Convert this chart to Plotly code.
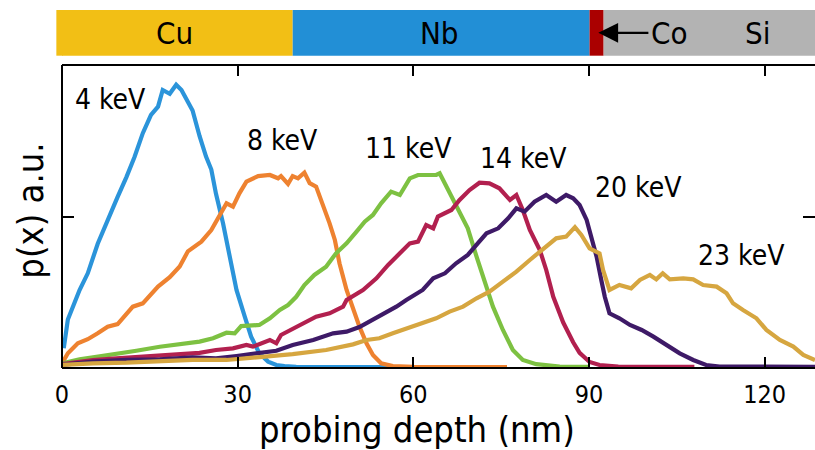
import plotly.graph_objects as go

# Implantation profiles p(x) versus probing depth, one per beam energy
energies = ["4 keV", "8 keV", "11 keV", "14 keV", "20 keV", "23 keV"]
colors = ["#2B94DA", "#EE8230", "#7DC142", "#B2204F", "#3E1A67", "#D6A640"]

x_4 = [0.3, 1.0, 3.0, 4.4, 6.1, 7.8, 9.5, 11.0, 12.4, 13.8, 15.2, 16.4, 17.2, 18.4, 19.5, 20.4,
       21.5, 22.3, 23.5, 24.6, 25.5, 26.3, 27.5, 28.6, 29.8, 31.2, 32.3, 33.7, 35.2, 36.6, 38.0,
       40.0, 45.0, 50.0, 56.0]
p_4 = [0.13, 0.32, 0.515, 0.625, 0.82, 0.98, 1.13, 1.26, 1.395, 1.55, 1.67, 1.725, 1.835, 1.81,
       1.87, 1.835, 1.76, 1.70, 1.53, 1.395, 1.31, 1.15, 0.955, 0.735, 0.515, 0.34, 0.207, 0.097,
       0.042, 0.02, 0.012, 0.008, 0.006, 0.006, 0.006]

x_8 = [0, 1.0, 2.7, 4.4, 6.1, 7.8, 9.5, 12.1, 13.8, 16.4, 18.4, 20.1, 21.5, 23.8, 25.5, 26.9, 28.1,
       29.2, 30.3, 31.5, 33.5, 35.5, 36.9, 37.4, 38.6, 39.4, 40.3, 41.4, 42.3, 43.4, 44.6, 45.7,
       46.6, 47.4, 48.6, 49.7, 50.8, 52.0, 53.1, 54.5, 56.5, 60, 65, 70, 76]
p_8 = [0.03, 0.097, 0.163, 0.19, 0.229, 0.273, 0.29, 0.405, 0.427, 0.537, 0.60, 0.67, 0.77, 0.834,
       0.91, 1.0, 1.087, 1.065, 1.153, 1.23, 1.267, 1.274, 1.252, 1.267, 1.215, 1.267, 1.252, 1.29,
       1.22, 1.197, 1.076, 0.955, 0.845, 0.69, 0.515, 0.383, 0.273, 0.163, 0.086, 0.031, 0.013,
       0.008, 0.006, 0.006, 0.006]

x_11 = [0, 3.0, 5.3, 9.3, 12.7, 16.7, 21.2, 23.5, 25.8, 28.1, 29.5, 30.6, 33.7, 35.5, 37.2, 38.6,
        40.0, 41.4, 43.1, 45.1, 46.8, 48.6, 50.3, 51.7, 53.1, 54.5, 56.2, 57.7, 59.4, 60.8, 61.6,
        63.9, 64.5, 65.9, 67.6, 69.3, 70.8, 72.2, 73.6, 75.3, 77.0, 78.7, 81.0, 85.0, 90.0]
p_11 = [0.03, 0.057, 0.07, 0.092, 0.114, 0.14, 0.158, 0.174, 0.196, 0.233, 0.229, 0.277, 0.284,
        0.328, 0.383, 0.416, 0.47, 0.548, 0.614, 0.668, 0.757, 0.823, 0.90, 0.966, 1.01, 1.087,
        1.164, 1.142, 1.252, 1.274, 1.274, 1.274, 1.285, 1.175, 1.054, 0.922, 0.735, 0.559, 0.405,
        0.251, 0.119, 0.053, 0.025, 0.01, 0.008]

x_14 = [0, 5.3, 9.3, 13.8, 18.4, 21.5, 23.5, 26.3, 29.2, 31.5, 32.6, 35.5, 36.6, 37.4, 40.6, 43.4,
        45.7, 48.0, 48.6, 50.3, 51.4, 53.7, 55.7, 57.7, 59.4, 60.8, 62.2, 63.4, 64.2, 66.5, 67.9,
        69.6, 71.3, 73.0, 74.7, 76.5, 77.6, 78.7, 79.9, 81.6, 82.7, 83.9, 85.6, 87.3, 88.4, 90.1,
        91.8, 95, 100, 108]
p_14 = [0.026, 0.053, 0.064, 0.075, 0.086, 0.10, 0.10, 0.119, 0.13, 0.152, 0.141, 0.185, 0.163,
        0.218, 0.284, 0.339, 0.361, 0.405, 0.449, 0.493, 0.515, 0.592, 0.68, 0.757, 0.823, 0.834,
        0.944, 0.922, 0.999, 1.043, 1.109, 1.175, 1.223, 1.219, 1.186, 1.109, 1.142, 1.043, 0.911,
        0.779, 0.647, 0.47, 0.30, 0.17, 0.10, 0.04, 0.02, 0.01, 0.008, 0.008]

x_20 = [0, 5.3, 11, 16.7, 22.3, 26.3, 29.8, 33.7, 36.6, 39.4, 42.9, 46.3, 48.6, 50.8, 52.0, 54.8,
        57.1, 58.8, 60.8, 61.6, 63.4, 65.4, 67.3, 69.3, 71.0, 72.5, 74.5, 76.2, 77.6, 79.0, 80.7,
        82.7, 84.4, 86.1, 87.3, 88.4, 89.6, 90.4, 91.3, 92.1, 92.7, 93.5, 95.2, 97.0, 99.0, 101,
        103.2, 105.5, 107.8, 110, 112.3, 120, 128.6]
p_20 = [0.02, 0.042, 0.053, 0.057, 0.07, 0.064, 0.079, 0.097, 0.114, 0.152, 0.185, 0.229, 0.24,
        0.27, 0.295, 0.35, 0.405, 0.449, 0.493, 0.515, 0.592, 0.625, 0.691, 0.746, 0.823, 0.889,
        0.922, 0.988, 1.054, 1.032, 1.098, 1.142, 1.098, 1.142, 1.12, 1.076, 0.977, 0.867, 0.735,
        0.581, 0.47, 0.361, 0.328, 0.284, 0.251, 0.207, 0.152, 0.097, 0.053, 0.02, 0.01, 0.008,
        0.008]

x_23 = [0, 5.3, 11, 16.7, 22.3, 28.1, 33.7, 39.4, 45.1, 49.7, 52.0, 54.2, 56.5, 58.8, 61.6, 63.9,
        66.2, 68.5, 70.8, 73.0, 75.3, 77.6, 79.9, 82.1, 84.4, 86.1, 87.6, 88.7, 90.1, 91.8, 92.4,
        93.5, 95.2, 97.2, 98.7, 100.4, 101.5, 102.6, 103.8, 106.1, 107.8, 109.5, 111.8, 113.5,
        114.6, 116.3, 118.6, 120.3, 122.6, 124.9, 126.6, 128.6]
p_23 = [0.02, 0.031, 0.035, 0.042, 0.053, 0.053, 0.07, 0.092, 0.119, 0.156, 0.185, 0.196, 0.229,
        0.262, 0.295, 0.328, 0.372, 0.405, 0.46, 0.504, 0.57, 0.636, 0.713, 0.779, 0.856, 0.867,
        0.93, 0.878, 0.79, 0.757, 0.647, 0.515, 0.548, 0.526, 0.581, 0.614, 0.585, 0.625, 0.585,
        0.592, 0.585, 0.548, 0.537, 0.493, 0.427, 0.383, 0.328, 0.251, 0.185, 0.141, 0.086, 0.053]

depths = [x_4, x_8, x_11, x_14, x_20, x_23]
profiles = [p_4, p_8, p_11, p_14, p_20, p_23]

# Label anchor positions (depth, p) for each energy
label_x = [8.3, 37.7, 59.2, 78.8, 98.5, 116.1]
label_y = [1.77, 1.50, 1.45, 1.386, 1.19, 0.74]

# Layer stack: name, start depth, end depth, colour
layer_names = ["Cu", "Nb", "Co", "Si"]
layer_start = [0.0, 39.4, 90.1, 92.5]
layer_end = [39.4, 90.1, 92.5, 130.0]
layer_colors = ["#F2BF15", "#228FD6", "#AA0000", "#B3B3B3"]
layer_label_x = [19.2, 64.5, 103.8, 118.8]

x_ticks = [0, 30, 60, 90, 120]
x_range = [0, 128.6]
y_range = [0, 2]

FONT = "DejaVu Sans Condensed, DejaVu Sans, sans-serif"

fig = go.Figure()
for xs, ps, name, col in zip(depths, profiles, energies, colors):
    fig.add_trace(go.Scatter(x=xs, y=ps, mode="lines", name=name,
                             line=dict(color=col, width=4.2), showlegend=False))

# mirrored ticks on the top and right edges via overlaid axes
fig.add_trace(go.Scatter(x=[None], y=[None], xaxis="x2", yaxis="y2", showlegend=False))

for lx, ly, name in zip(label_x, label_y, energies):
    fig.add_annotation(x=lx, y=ly, text=name, showarrow=False, xanchor="center",
                       yanchor="middle", font=dict(family=FONT, size=28, color="black"))

# layer bar above the plot
bar_y0, bar_y1 = 1.0307, 1.1815
bar_mid = (bar_y0 + bar_y1) / 2
# small overhang of the first layer to the left of the frame
fig.add_shape(type="rect", xref="paper", yref="paper", x0=-0.0075, x1=0.001, y0=bar_y0,
              y1=bar_y1, fillcolor=layer_colors[0], line=dict(width=0), layer="above")
for x0, x1, col in zip(layer_start, layer_end, layer_colors):
    fig.add_shape(type="rect", xref="x", yref="paper", x0=x0, x1=x1, y0=bar_y0, y1=bar_y1,
                  fillcolor=col, line=dict(width=0), layer="above")
for name, lx in zip(layer_names, layer_label_x):
    fig.add_annotation(x=lx, y=bar_mid, xref="x", yref="paper", text=name, showarrow=False,
                       xanchor="center", yanchor="middle",
                       font=dict(family=FONT, size=31, color="black"))
# arrow pointing at the thin Co layer
fig.add_annotation(x=91.6, y=bar_mid, xref="x", yref="paper", text="",
                   showarrow=True, axref="x", ax=100.4, ayref="pixel", ay=0,
                   arrowhead=2, arrowsize=1.8, arrowwidth=2.2, arrowcolor="black")

# frame lines (left, top, bottom)
for x0, y0, x1, y1 in [(0, 0, 0, 1), (0, 1, 1, 1), (0, 0, 1, 0)]:
    fig.add_shape(type="line", xref="paper", yref="paper", x0=x0, y0=y0, x1=x1, y1=y1,
                  line=dict(color="black", width=2), layer="above")

# axis titles
fig.add_annotation(x=0.472, y=-0.202, xref="paper", yref="paper", text="probing depth (nm)",
                   showarrow=False, xanchor="center", yanchor="middle",
                   font=dict(family=FONT, size=36, color="black"))
fig.add_annotation(x=-0.043, y=0.518, xref="paper", yref="paper", text="p(x) a.u.",
                   textangle=-90, showarrow=False, xanchor="center", yanchor="middle",
                   font=dict(family=FONT, size=36, color="black"))

tick_style = dict(ticks="inside", tickwidth=1.5, tickcolor="black", showline=False,
                  showgrid=False, zeroline=False)
fig.update_layout(
    width=815, height=450,
    margin=dict(l=62, r=0, t=65, b=82),
    paper_bgcolor="white", plot_bgcolor="white",
    xaxis=dict(range=x_range, tickvals=x_ticks, ticklen=11, ticklabelstandoff=9,
               tickfont=dict(family=FONT, size=25, color="black"), **tick_style),
    xaxis2=dict(range=x_range, tickvals=x_ticks, ticklen=11, overlaying="x", side="top",
                showticklabels=False, **tick_style),
    yaxis=dict(range=y_range, tickvals=[1], ticklen=12, showticklabels=False, **tick_style),
    yaxis2=dict(range=y_range, tickvals=[1], ticklen=12, overlaying="y", side="right",
                showticklabels=False, **tick_style),
)

fig.write_html("out.html")
